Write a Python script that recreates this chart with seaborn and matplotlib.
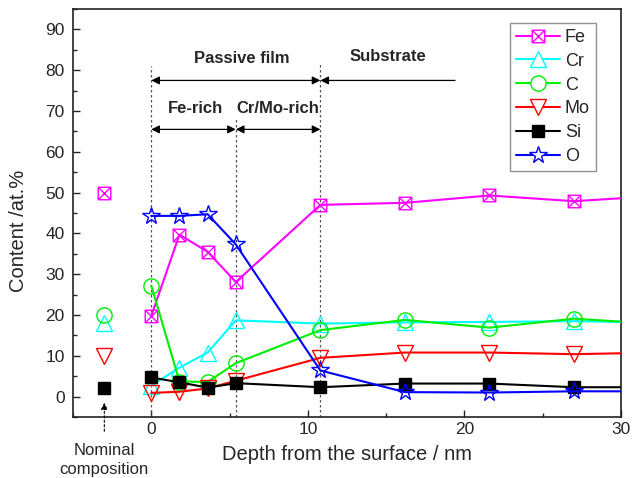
import numpy as np
import pandas as pd
import matplotlib
matplotlib.use("Agg")
import matplotlib.pyplot as plt
from matplotlib.path import Path
from matplotlib.lines import Line2D
from matplotlib.ticker import MultipleLocator
import seaborn as sns

# ---- data ----
depth = [0, 1.8, 3.6, 5.4, 10.8, 16.2, 21.6, 27.0, 32.4]
fe = [19.8, 39.7, 35.5, 28.1, 47.0, 47.5, 49.3, 47.9, 49.2]
cr = [2.7, 7.1, 10.8, 18.7, 17.9, 18.2, 18.3, 18.5, 18.1]
c = [27.2, 3.7, 3.6, 8.2, 16.3, 18.8, 16.9, 19.1, 17.8]
mo = [0.9, 1.2, 2.0, 3.9, 9.5, 10.8, 10.8, 10.4, 10.8]
si = [4.7, 3.5, 2.2, 3.3, 2.3, 3.2, 3.2, 2.3, 2.3]
o = [44.3, 44.3, 44.7, 37.3, 6.4, 1.1, 1.0, 1.3, 1.3]

nominal_x = -3.0
nominal = {"Fe": 50, "Cr": 18, "C": 20, "Mo": 10, "Si": 2}

elements = ["Fe", "Cr", "C", "Mo", "Si", "O"]
series = {"Fe": fe, "Cr": cr, "C": c, "Mo": mo, "Si": si, "O": o}
colors = {"Fe": "#ff00ff", "Cr": "#00ffff", "C": "#00ee00", "Mo": "#ff0000",
          "Si": "#000000", "O": "#0000ff"}

boundaries = [0, 5.4, 10.8]

# square-with-X marker
box_x = Path([(-1, -1), (1, -1), (1, 1), (-1, 1), (-1, -1),
              (-1, -1), (1, 1), (-1, 1), (1, -1)],
             [Path.MOVETO, Path.LINETO, Path.LINETO, Path.LINETO, Path.CLOSEPOLY,
              Path.MOVETO, Path.LINETO, Path.MOVETO, Path.LINETO])
markers = {"Fe": box_x, "Cr": "^", "C": "o", "Mo": "v", "Si": "s", "O": "*"}
msizes = {"Fe": 9, "Cr": 12, "C": 11, "Mo": 11, "Si": 8, "O": 13}

sns.set_theme(style="ticks")
plt.rcParams["font.family"] = ["Liberation Sans", "DejaVu Sans"]

fig = plt.figure(figsize=(6.32, 4.78), dpi=100)
ax = fig.add_axes([0.1155, 0.1276, 0.8671, 0.8535])

df = pd.DataFrame({"depth": depth, **series})

for el in elements:
    filled = el == "Si"
    sns.lineplot(data=df, x="depth", y=el, ax=ax, sort=False,
                 color=colors[el], linewidth=1.5,
                 marker=markers[el], markersize=msizes[el],
                 markerfacecolor=colors[el] if filled else "none",
                 markeredgecolor=colors[el], markeredgewidth=1.0,
                 legend=False, zorder=3)

# nominal composition points
for el, v in nominal.items():
    filled = el == "Si"
    sns.lineplot(x=[nominal_x], y=[v], ax=ax, color=colors[el], linewidth=0,
                 marker=markers[el], markersize=msizes[el],
                 markerfacecolor=colors[el] if filled else "none",
                 markeredgecolor=colors[el], markeredgewidth=1.0,
                 legend=False, zorder=3)

# dashed boundary lines
tops = [81, 68.5, 81.5]
for b, t in zip(boundaries, tops):
    ax.plot([b, b], [-5, t], ls=(0, (2, 2)), color="#555555", lw=0.9, zorder=1)

arrow_kw = dict(arrowstyle="<|-|>", color="black", lw=0.9, mutation_scale=12,
                shrinkA=0, shrinkB=0)
ax.annotate("", xy=(0, 77.5), xytext=(10.8, 77.5), arrowprops=arrow_kw)
ax.annotate("", xy=(0, 65.5), xytext=(5.4, 65.5), arrowprops=arrow_kw)
ax.annotate("", xy=(5.4, 65.5), xytext=(10.8, 65.5), arrowprops=arrow_kw)
ax.annotate("", xy=(10.8, 77.5), xytext=(19.4, 77.5),
            arrowprops=dict(arrowstyle="-|>", color="black", lw=0.9,
                            mutation_scale=12, shrinkA=0, shrinkB=0))

fs_ann = 12
ax.text(5.8, 82.8, "Passive film", ha="center", va="center", fontsize=fs_ann, fontweight="bold")
ax.text(2.85, 70.6, "Fe-rich", ha="center", va="center", fontsize=fs_ann, fontweight="bold")
ax.text(8.1, 70.6, "Cr/Mo-rich", ha="center", va="center", fontsize=fs_ann, fontweight="bold")
ax.text(15.1, 83.3, "Substrate", ha="center", va="center", fontsize=fs_ann, fontweight="bold")

# nominal composition arrow and label
ax.annotate("", xy=(nominal_x, -1.5), xytext=(nominal_x, -8.5), annotation_clip=False,
            arrowprops=dict(arrowstyle="-|>", color="black", lw=0.8, ls=(0, (2, 2)),
                            mutation_scale=10, shrinkA=0, shrinkB=0))
ax.text(nominal_x, -14.3, "Nominal", ha="center", va="baseline", fontsize=12, clip_on=False)
ax.text(nominal_x, -19.0, "composition", ha="center", va="baseline", fontsize=12, clip_on=False)

ax.set_xlim(-5, 30)
ax.set_ylim(-5, 95)
ax.set_xticks([0, 10, 20, 30])
ax.xaxis.set_minor_locator(MultipleLocator(5))
ax.set_yticks(range(0, 100, 10))
ax.yaxis.set_minor_locator(MultipleLocator(5))
ax.tick_params(which="both", direction="in", top=False, right=False, labelsize=12.5)
ax.tick_params(which="major", length=5, width=1)
ax.tick_params(which="minor", length=3, width=1)
ax.tick_params(axis="y", pad=6)
for sp in ax.spines.values():
    sp.set_linewidth(1.2)
    sp.set_color("#222222")

ax.set_xlabel("Depth from the surface / nm", fontsize=14.5, labelpad=6)
ax.set_ylabel("Content /at.%", fontsize=14.5)
ax.yaxis.set_label_coords(-0.083, 0.456)

handles = []
for el in elements:
    filled = el == "Si"
    handles.append(Line2D([], [], color=colors[el], lw=1.5, marker=markers[el],
                          markersize=msizes[el],
                          markerfacecolor=colors[el] if filled else "white",
                          markeredgecolor=colors[el], markeredgewidth=1.0))
leg = ax.legend(handles, elements, loc="upper right", bbox_to_anchor=(0.954, 0.966),
                borderaxespad=0, fontsize=13, frameon=True, fancybox=False,
                edgecolor="#777777", handlelength=2.45, handletextpad=0.28,
                labelspacing=0.38, borderpad=0.33)
leg.get_frame().set_linewidth(1.0)

fig.savefig("out.png", dpi=100)
